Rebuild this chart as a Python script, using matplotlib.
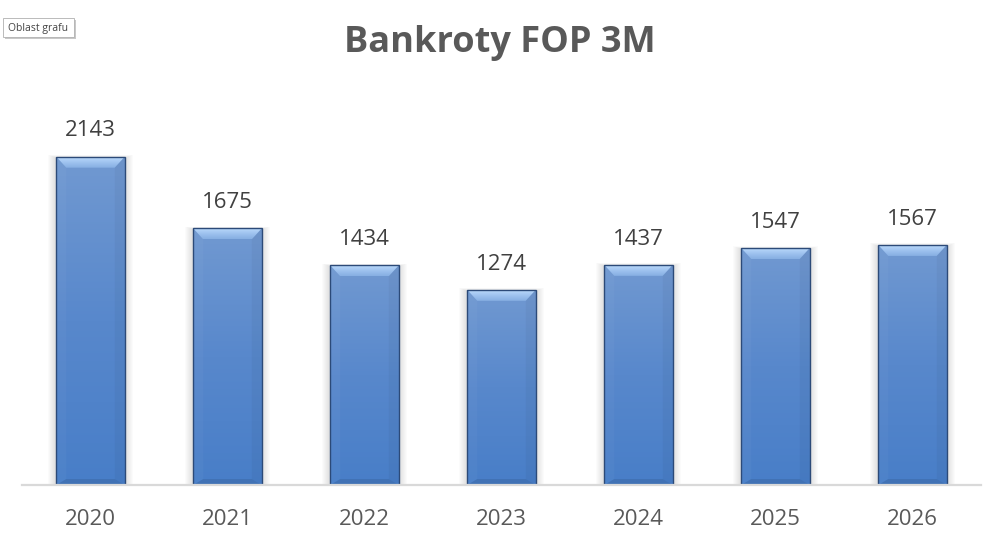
import matplotlib
matplotlib.use("Agg")
import matplotlib.pyplot as plt
import numpy as np
from matplotlib.patches import Polygon, Rectangle
from matplotlib.colors import LinearSegmentedColormap

years = ["2020", "2021", "2022", "2023", "2024", "2025", "2026"]
values = [2143, 1675, 1434, 1274, 1437, 1547, 1567]
title = "Bankroty FOP 3M"

W, H = 999, 545
fig = plt.figure(figsize=(W / 100, H / 100), dpi=100)
fig.patch.set_facecolor("white")
ax_l, ax_b, ax_w, ax_h = 22, 60, 959, 383
ax = fig.add_axes([ax_l / W, ax_b / H, ax_w / W, ax_h / H])
ax.set_facecolor("none")
x = np.arange(len(years))
YMAX = 2500
ax.set_xlim(-0.5, len(years) - 0.5)
ax.set_ylim(0, YMAX)

sx = ax_w / len(years)   # px per x unit
sy = ax_h / YMAX         # px per y unit

bars = ax.bar(x, values, width=0.5, color="none", edgecolor="#2c4a78",
              linewidth=1.0, zorder=5)

body = LinearSegmentedColormap.from_list("body", ["#487ec8", "#5888cc", "#7199d1"])
topc = LinearSegmentedColormap.from_list("topc", ["#86aee2", "#9ec2ef", "#bcdafb"])
grad = np.linspace(0, 1, 256).reshape(-1, 1)

for b in bars:
    x0 = b.get_x(); w = b.get_width(); h = b.get_height(); x1 = x0 + w
    # soft shadow
    for k in range(1, 9):
        ax.add_patch(Rectangle((x0 - k / sx, 0), w + 2 * k / sx, h + (k * 0.35 - 1.0) / sy,
                               facecolor="#000000", alpha=0.014, edgecolor="none", zorder=1))
    im = ax.imshow(grad, extent=[x0, x1, 0, h], origin="lower", cmap=body,
                   aspect="auto", zorder=2, interpolation="bicubic")
    im.set_clip_path(b)
    bx = 10 / sx; by = 11 / sy
    top = Polygon([(x0, h), (x1, h), (x1 - bx, h - by), (x0 + bx, h - by)],
                  closed=True, facecolor="none", edgecolor="none", zorder=3)
    ax.add_patch(top)
    im2 = ax.imshow(grad, extent=[x0, x1, h - by, h], origin="lower", cmap=topc,
                    aspect="auto", zorder=3, interpolation="bicubic")
    im2.set_clip_path(top)
    by2 = 6 / sy
    ax.add_patch(Polygon([(x0, h), (x0 + bx, h - by), (x0 + bx, by2), (x0, 0)], closed=True,
                         facecolor="#ffffff", alpha=0.03, edgecolor="none", zorder=3))
    ax.add_patch(Polygon([(x1, h), (x1 - bx, h - by), (x1 - bx, by2), (x1, 0)], closed=True,
                         facecolor="#000000", alpha=0.035, edgecolor="none", zorder=3))
    ax.add_patch(Polygon([(x0, 0), (x1, 0), (x1 - bx, by2), (x0 + bx, by2)], closed=True,
                         facecolor="#000000", alpha=0.09, edgecolor="none", zorder=3))
    ax.annotate(f"{int(h)}", (b.get_x() + w / 2, h), xytext=(0, 11), textcoords="offset points",
                ha="center", va="bottom", fontsize=16, color="#404040", family="Open Sans")

ax.set_xlim(-0.5, len(years) - 0.5)
ax.set_ylim(0, YMAX)
ax.set_xticks(x)
ax.set_xticklabels(years, fontsize=16, color="#595959", family="Open Sans")
ax.set_yticks([])
ax.tick_params(axis="x", length=0, pad=17.5)
for s in ["top", "right", "left"]:
    ax.spines[s].set_visible(False)
ax.spines["bottom"].set_color("#d9d9d9")
ax.spines["bottom"].set_linewidth(1.6)
ax.spines["bottom"].set_zorder(6)

fig.text(0.5, 1 - 52 / H, title, ha="center", va="baseline", fontsize=26,
         fontweight="bold", color="#595959", family="Open Sans")

# "Oblast grafu" tooltip
fig.patches.append(Rectangle((5 / W, 1 - 39 / H), 71 / W, 19 / H, transform=fig.transFigure,
                             facecolor="#c8c8c8", edgecolor="none", zorder=1))
fig.patches.append(Rectangle((3 / W, 1 - 37 / H), 71 / W, 19 / H, transform=fig.transFigure,
                             facecolor="white", edgecolor="#b0b0b0", linewidth=0.6, zorder=2))
fig.text(38 / W, 1 - 28 / H, "Oblast grafu", ha="center", va="center", fontsize=7.5,
         color="#444444", family="Open Sans", zorder=3)

fig.savefig("out.png", dpi=100)
